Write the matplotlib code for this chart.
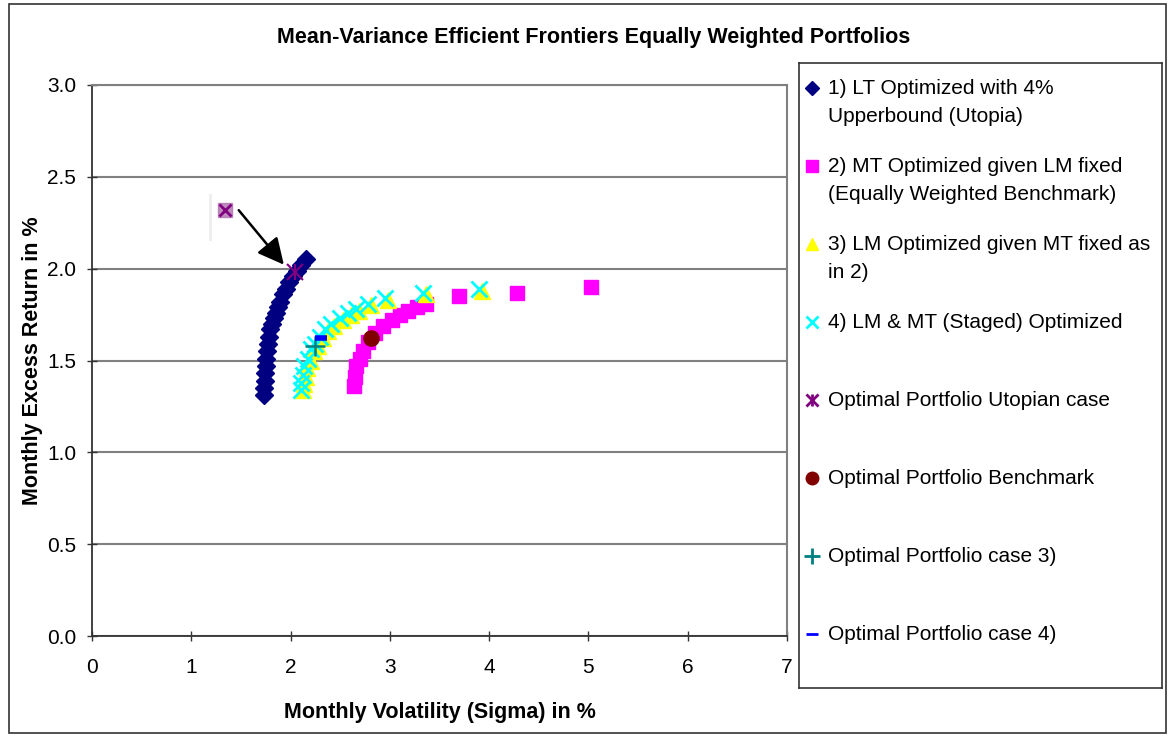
import matplotlib
matplotlib.use("Agg")
import matplotlib.pyplot as plt
from matplotlib.patches import Rectangle

plt.rcParams["font.family"] = ["Liberation Sans", "DejaVu Sans"]

# ── data ─────────────────────────────────────────────────────────────────────
lt_x = [1.73, 1.73, 1.74, 1.74, 1.75, 1.75, 1.76, 1.77, 1.78, 1.79, 1.81, 1.83,
        1.85, 1.87, 1.89, 1.92, 1.95, 1.98, 2.02, 2.06, 2.10, 2.16]
lt_y = [1.31, 1.35, 1.39, 1.43, 1.47, 1.51, 1.55, 1.59, 1.63, 1.67, 1.70, 1.73,
        1.76, 1.79, 1.82, 1.86, 1.89, 1.93, 1.96, 1.99, 2.02, 2.05]

mt_x = [2.64, 2.65, 2.66, 2.70, 2.73, 2.78, 2.85, 2.93, 3.02, 3.10, 3.18, 3.27,
        3.36, 3.70, 4.28, 5.03]
mt_y = [1.36, 1.41, 1.47, 1.51, 1.55, 1.60, 1.65, 1.69, 1.72, 1.75, 1.77, 1.79,
        1.81, 1.85, 1.87, 1.90]

lm_x = [2.13, 2.14, 2.16, 2.17, 2.21, 2.24, 2.28, 2.33, 2.38, 2.44, 2.53, 2.61,
        2.69, 2.81, 2.98, 3.36, 3.93]
lm_y = [1.34, 1.37, 1.41, 1.46, 1.50, 1.55, 1.58, 1.62, 1.66, 1.69, 1.72, 1.75,
        1.77, 1.80, 1.83, 1.86, 1.88]

st_x = [2.10, 2.11, 2.13, 2.14, 2.18, 2.21, 2.25, 2.30, 2.35, 2.41, 2.50, 2.58,
        2.66, 2.78, 2.95, 3.33, 3.90]
st_y = [1.34, 1.38, 1.42, 1.47, 1.51, 1.56, 1.59, 1.63, 1.67, 1.70, 1.73, 1.76,
        1.78, 1.81, 1.84, 1.87, 1.89]

opt_utopia = (2.04, 1.98)
opt_bench = (2.81, 1.62)
opt_case3 = (2.25, 1.58)
opt_case4 = (2.31, 1.62)

# pasted marker and arrow pointing to the utopian optimum
stray_pt = (1.34, 2.32)
stray_bar_x = [1.185, 1.185]
stray_bar_y = [2.16, 2.40]
arrow_from = (1.46, 2.33)
arrow_to = (1.95, 2.01)

labels = [
    ["1) LT Optimized with 4%", "Upperbound (Utopia)"],
    ["2) MT Optimized given LM fixed", "(Equally Weighted Benchmark)"],
    ["3) LM Optimized given MT fixed as", "in 2)"],
    ["4) LM & MT (Staged) Optimized"],
    ["Optimal Portfolio Utopian case"],
    ["Optimal Portfolio Benchmark"],
    ["Optimal Portfolio case 3)"],
    ["Optimal Portfolio case 4)"],
]
styles = [  # marker, color, size
    ("D", "#000080", 7),
    ("s", "#FF00FF", 8),
    ("^", "#FFFF00", 9),
    ("x", "#00FFFF", 9),
    ("x", "#800080", 8),
    ("o", "#800000", 9),
    ("+", "#008080", 11),
    ("_", "#0000FF", 8),
]

W, H = 1170, 736
fig = plt.figure(figsize=(W / 100, H / 100), dpi=100)
fig.patches.append(Rectangle((9 / W, 3 / H), 1157 / W, 729 / H, transform=fig.transFigure,
                             fill=False, edgecolor="#333333", linewidth=1.2))

ax = fig.add_axes([92 / W, 1 - 636 / H, (787 - 92) / W, (636 - 85) / H])
ax.set_xlim(0, 7)
ax.set_ylim(0, 3.0)
ax.set_xticks(range(0, 8))
ax.set_yticks([0.0, 0.5, 1.0, 1.5, 2.0, 2.5, 3.0])
ax.set_yticklabels([f"{v:.1f}" for v in ax.get_yticks()])
ax.tick_params(direction="inout", length=7, width=1, colors="#333333",
               labelcolor="black", labelsize=15)
ax.tick_params(axis="x", pad=12)
ax.tick_params(axis="y", pad=8)
ax.grid(axis="y", color="#808080", linewidth=1.5)
ax.set_axisbelow(True)
for s in ["top", "right"]:
    ax.spines[s].set_color("#808080")
    ax.spines[s].set_linewidth(1.5)
for s in ["left", "bottom"]:
    ax.spines[s].set_color("#333333")
    ax.spines[s].set_linewidth(1.3)

ax.plot(lt_x, lt_y, ls="none", marker="D", ms=9, color="#000080", mec="#000080")
ax.plot(mt_x, mt_y, ls="none", marker="s", ms=10, color="#FF00FF", mec="#FF00FF")
ax.plot(lm_x, lm_y, ls="none", marker="^", ms=11, color="#FFFF00", mec="#FFFF00")
ax.plot(st_x, st_y, ls="none", marker="x", ms=11, mew=2, color="#00FFFF")
ax.plot(*opt_utopia, ls="none", marker="x", ms=11, mew=1.5, color="#800080")
ax.plot(*opt_utopia, ls="none", marker="|", ms=11, mew=1.5, color="#800080")
ax.plot(*opt_bench, ls="none", marker="o", ms=11, color="#800000")
ax.plot(*opt_case3, ls="none", marker="+", ms=14, mew=1.8, color="#008080")
ax.plot(*opt_case4, ls="none", marker="_", ms=9, mew=4, color="#0000FF")

ax.plot(stray_bar_x, stray_bar_y, color="#eeeeee", linewidth=2)
ax.plot(*stray_pt, ls="none", marker="s", ms=10, color="#b070b0", alpha=0.8)
ax.plot(*stray_pt, ls="none", marker="x", ms=9, mew=2, color="#800080")
ax.annotate("", xy=arrow_to, xytext=arrow_from,
            arrowprops=dict(arrowstyle="-|>", color="black", lw=1.8, mutation_scale=40))

ax.set_xlabel("Monthly Volatility (Sigma) in %", fontsize=15.5, fontweight="bold", labelpad=18)
ax.set_ylabel("Monthly Excess Return in %", fontsize=15.5, fontweight="bold", labelpad=3)
fig.text(594 / W, 1 - 38 / H, "Mean-Variance Efficient Frontiers Equally Weighted Portfolios",
         ha="center", va="center", fontsize=15.5, fontweight="bold")

# ── legend box ───────────────────────────────────────────────────────────────
lx0, lx1, ly0, ly1 = 799, 1162, 63, 688
lg = fig.add_axes([lx0 / W, 1 - ly1 / H, (lx1 - lx0) / W, (ly1 - ly0) / H])
lg.set_xlim(0, lx1 - lx0)
lg.set_ylim(ly1 - ly0, 0)
lg.set_xticks([])
lg.set_yticks([])
for s in lg.spines.values():
    s.set_color("#333333")
    s.set_linewidth(1.2)
for i, (lab, (mk, col, sz)) in enumerate(zip(labels, styles)):
    y = 25 + 78 * i
    lg.plot(13, y, ls="none", marker=mk, ms=sz, color=col, mec=col,
            mew=2 if mk in "x+_" else 1)
    if i == 4:
        lg.plot(13, y, ls="none", marker="|", ms=sz, color=col, mew=2)
    for j, line in enumerate(lab):
        lg.text(29, y + 28 * j, line, ha="left", va="center", fontsize=15)

fig.savefig("out.png", dpi=100)
